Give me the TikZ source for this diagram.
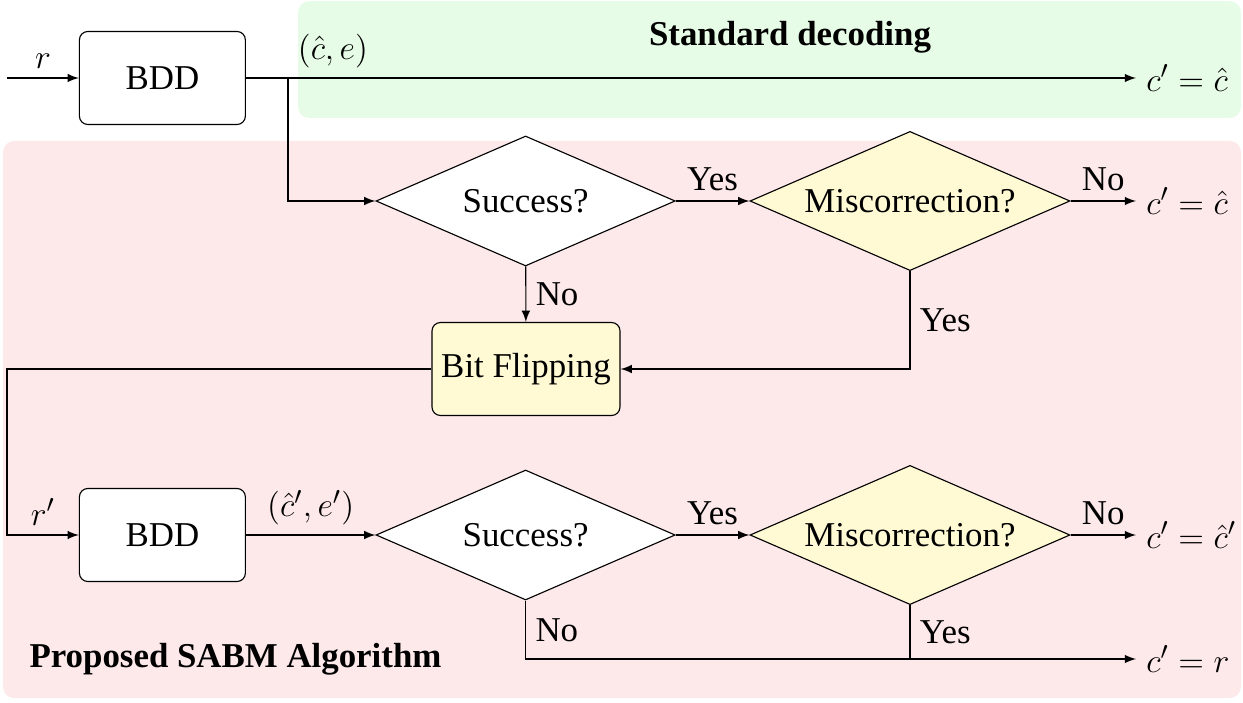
\documentclass[tikz,border=0pt]{standalone}
\usepackage{amsmath}
\usepackage{fontspec}
\setmainfont{Liberation Serif}
\usepackage{tikz}
\usetikzlibrary{shapes.geometric, positioning, arrows}
\usepackage{xcolor}
\definecolor{stdgreen}{RGB}{231,252,230}
\definecolor{sabmred}{RGB}{253,232,234}
\definecolor{boxyellow}{RGB}{255,250,212}

\begin{document}
\begin{tikzpicture}[>=latex, font=\fontsize{12.4}{15}\selectfont,
  block/.style={draw, rounded corners=3pt, inner sep=3pt,
    minimum width=2.075cm, minimum height=1.1625cm},
  decision/.style={draw, diamond, aspect=2.3, inner sep=1pt, fill=white},
  output/.style={anchor=west, inner sep=3.5pt}
]
  \useasboundingbox (0,0) rectangle (15.5375,8.775);

  % Shaded regions
  \fill[stdgreen, rounded corners=4pt] (3.725,8.76) rectangle (15.5125,7.3);
  \fill[sabmred, rounded corners=4pt] (0.0375,7.0125) rectangle (15.5125,0.05);
  \node[font=\fontsize{12.4}{15}\selectfont\bfseries] (stdlab) at (9.875,8.3125) {Standard decoding};
  \node[anchor=west, inner sep=0pt, font=\fontsize{12.4}{15}\selectfont\bfseries] (sabmlab) at (0.3625,0.5375) {Proposed SABM Algorithm};

  % First decoding attempt
  \coordinate (in1) at (0.0875,7.8);
  \coordinate (split) at (3.6,7.8);
  \node[block, fill=white] (bdd1) at (2.03,7.8) {BDD};
  \node[decision, minimum width=3.74cm, minimum height=1.625cm] (succ1) at (6.57,6.2625) {Success?};
  \node[decision, fill=boxyellow, minimum width=4cm, minimum height=1.74cm] (mis1) at (11.375,6.2625) {Miscorrection?};
  \node[block, fill=boxyellow, minimum width=2.35cm] (flip) at (6.575,4.1625) {Bit Flipping};
  \node[output] (out1) at (14.2,7.8) {$c' = \hat{c}$};
  \node[output] (out2) at (14.2,6.2625) {$c' = \hat{c}$};
  \node[above right] (chat) at (split) {$(\hat{c}, e)$};

  % Second decoding attempt
  \coordinate (turn) at (0.0875,2.0875);
  \node[block, fill=white] (bdd2) at (2.03,2.0875) {BDD};
  \node[decision, minimum width=3.74cm, minimum height=1.625cm] (succ2) at (6.57,2.0875) {Success?};
  \node[decision, fill=boxyellow, minimum width=4cm, minimum height=1.74cm] (mis2) at (11.375,2.0875) {Miscorrection?};
  \node[output] (out3) at (14.2,2.0875) {$c' = \hat{c}'$};
  \node[output] (out4) at (14.2,0.5375) {$c' = r$};

  % Connections, upper part
  \draw[->] (in1) -- node[above] {$r$} (bdd1);
  \draw[->] (bdd1) -- (out1);
  \draw[->] (split) |- (succ1.west);
  \draw[->] (succ1) -- node[above] {Yes} (mis1);
  \draw[->] (mis1) -- node[above] {No} (out2);
  \draw[->] (succ1) -- node[right] {No} (flip);
  \draw[->] (mis1.south) |- node[pos=0.25, right] {Yes} (flip.east);

  % Connections, lower part
  \draw[->] (flip.west) -| (turn) -- node[above] {$r'$} (bdd2.west);
  \draw[->] (bdd2) -- node[above] {$(\hat{c}', e')$} (succ2);
  \draw[->] (succ2) -- node[above] {Yes} (mis2);
  \draw[->] (mis2) -- node[above] {No} (out3);
  \draw[->] (succ2.south) |- node[pos=0.25, right] {No} (out4.west);
  \draw (mis2.south) -- node[right] {Yes} (mis2.south |- out4.west);
\end{tikzpicture}
\end{document}
